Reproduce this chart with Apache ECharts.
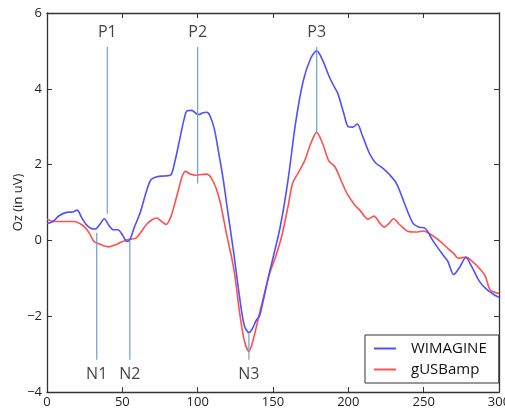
<!DOCTYPE html>
<html><head><meta charset="utf-8">
<script src="https://cdn.jsdelivr.net/npm/echarts@6/dist/echarts.min.js"></script>
<style>html,body{margin:0;padding:0;background:#fff}#c{width:505px;height:408px}</style>
</head><body><div id="c"></div>
<script>
// WIMAGINE (blue)
const wimT = [0,4,8,13,17,20,23,26,29,32,35,38,41,44,47,50,53,55,58,62,66,69,73,78,82,85,88,91,93,96,99,101,103,106,108,111,114,117,120,124,128,131,134,136,139,141,144,147,151,155,160,165,170,175,179,183,187,190,193,197,200,203,206,209,214,218,223,227,232,238,243,247,251,256,262,266,270,274,278,282,287,292,297,300];
const wimV = [0.45,0.5,0.65,0.74,0.75,0.8,0.6,0.42,0.32,0.3,0.42,0.57,0.4,0.28,0.28,0.15,-0.03,0.02,0.35,0.75,1.3,1.6,1.68,1.7,1.72,2.1,2.65,3.2,3.42,3.43,3.35,3.32,3.36,3.38,3.3,2.95,2.3,1.6,0.75,-0.35,-1.55,-2.25,-2.43,-2.35,-2.1,-2.0,-1.5,-0.95,-0.3,0.4,1.6,3.1,4.2,4.8,5.0,4.75,4.35,4.1,3.88,3.35,3.0,2.99,3.07,2.8,2.3,2.05,1.9,1.75,1.5,0.9,0.45,0.35,0.32,0.0,-0.34,-0.55,-0.9,-0.7,-0.45,-0.7,-1.08,-1.3,-1.44,-1.5];
// gUSBamp (red)
const usbT = [0,5,9,14,18,22,25,28,31,34,38,41,45,48,52,55,59,62,66,70,73,76,79,82,85,88,90,92,95,99,103,106,109,112,115,119,124,128,131,134,137,140,144,148,152,156,160,163,167,171,175,179,183,187,191,195,199,204,208,213,217,221,224,227,230,234,239,245,250,255,260,266,270,273,278,283,288,291,294,298,300];
const usbV = [0.56,0.5,0.5,0.5,0.5,0.44,0.35,0.2,-0.02,-0.08,-0.15,-0.17,-0.12,-0.07,0.0,0.03,0.06,0.2,0.42,0.55,0.59,0.5,0.42,0.6,1.0,1.45,1.72,1.82,1.75,1.72,1.74,1.75,1.65,1.4,1.0,0.2,-0.75,-1.95,-2.65,-2.93,-2.6,-2.1,-1.45,-0.85,-0.4,0.15,0.9,1.5,1.8,2.1,2.55,2.85,2.55,2.1,1.95,1.6,1.25,0.95,0.78,0.56,0.64,0.45,0.35,0.45,0.57,0.42,0.25,0.22,0.25,0.15,0.01,-0.21,-0.35,-0.47,-0.44,-0.58,-0.78,-0.95,-1.3,-1.38,-1.4];

const peakNames = ['P1','P2','P3'];
const peakTimes = [40,100,179];
const peakTops = [5.1,5.1,5.1];
const peakBases = [0.7,1.5,2.85];
const troughNames = ['N1','N2','N3'];
const troughTimes = [33,55,134];
const troughTops = [0.2,0.0,-2.45];
const troughBases = [-3.15,-3.15,-3.15];

const xTicks = {min:0,max:300,interval:50};
const yTicks = {min:-4,max:6,interval:2};

const FONT = 'Open Sans';
const BLUE = '#5050ff', RED = '#ff5050', MARK = '#6d9fd6', AX = '#333';

const zip = (a,b) => a.map((t,i)=>[t,b[i]]);

const series = [
  {name:'WIMAGINE', type:'line', data:zip(wimT,wimV), smooth:0.3, showSymbol:false, symbol:'none',
   lineStyle:{color:BLUE,width:1.6}, itemStyle:{color:BLUE}, z:3},
  {name:'gUSBamp', type:'line', data:zip(usbT,usbV), smooth:0.3, showSymbol:false, symbol:'none',
   lineStyle:{color:RED,width:1.6}, itemStyle:{color:RED}, z:2}
];
peakNames.forEach((n,i)=>{
  series.push({type:'line', data:[[peakTimes[i],peakTops[i]],[peakTimes[i],peakBases[i]]], symbol:'none',
    lineStyle:{color:MARK,width:1.2}, silent:true, z:4});
  series.push({type:'scatter', data:[[peakTimes[i],peakTops[i]]], symbolSize:0, silent:true,
    label:{show:true, position:'top', distance:7, formatter:n, fontFamily:FONT, fontSize:16, color:'#111'}});
});
troughNames.forEach((n,i)=>{
  series.push({type:'line', data:[[troughTimes[i],troughTops[i]],[troughTimes[i],troughBases[i]]], symbol:'none',
    lineStyle:{color:MARK,width:1.2}, silent:true, z:4});
  series.push({type:'scatter', data:[[troughTimes[i],troughBases[i]]], symbolSize:0, silent:true,
    label:{show:true, position:'bottom', distance:7, formatter:n, fontFamily:FONT, fontSize:16, color:'#111'}});
});

const minus = v => String(v).replace('-', '\u2212');
const baseAxis = (o) => Object.assign({
  type:'value', splitLine:{show:false},
  axisLine:{show:true, onZero:false, lineStyle:{color:AX,width:1.3}},
  axisTick:{show:true, inside:true, length:5, lineStyle:{color:AX,width:1}},
}, o);

const chart = echarts.init(document.getElementById('c'), null, {renderer:'canvas'});
chart.setOption({
  animation:false,
  backgroundColor:'#fff',
  grid:{left:47, right:6, top:13, bottom:16, containLabel:false, outerBoundsMode:'none'},
  xAxis:[
    baseAxis(Object.assign({position:'bottom', axisLabel:{margin:4, fontFamily:FONT, fontSize:13, color:'#222', formatter:minus}}, xTicks)),
    baseAxis(Object.assign({position:'top', axisLabel:{show:false}}, xTicks))
  ],
  yAxis:[
    baseAxis(Object.assign({position:'left', name:'Oz (in uV)', nameLocation:'middle', nameGap:22, nameRotate:90,
      nameMoveOverlap:false,
      nameTextStyle:{fontFamily:FONT, fontSize:13, color:'#222'},
      axisLabel:{margin:5, fontFamily:FONT, fontSize:13, color:'#222', formatter:minus}}, yTicks)),
    baseAxis(Object.assign({position:'right', axisLabel:{show:false}}, yTicks))
  ],
  legend:{
    data:['WIMAGINE','gUSBamp'], orient:'vertical', left:365, top:335,
    icon:'rect', itemWidth:22, itemHeight:2, itemGap:6,
    padding:[6,12,6,9], borderColor:'#333', borderWidth:1, borderRadius:0, backgroundColor:'#fff',
    textStyle:{fontFamily:FONT, fontSize:15, color:'#111', padding:[0,0,0,10]}
  },
  series:series
});
</script>
</body></html>
